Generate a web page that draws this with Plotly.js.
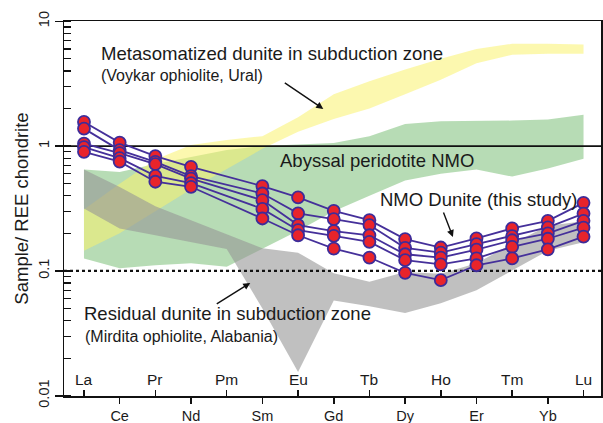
<!DOCTYPE html>
<html>
<head>
<meta charset="utf-8">
<script src="https://cdn.plot.ly/plotly-3.0.1.min.js"></script>
<style>html,body{margin:0;padding:0;background:#fff;}#chart{width:603px;height:423px;}</style>
</head>
<body>
<div id="chart"></div>
<script>
// REE elements (x categories, index positions)
const elements = ['La','Ce','Pr','Nd','Pm','Sm','Eu','Gd','Tb','Dy','Ho','Er','Tm','Yb','Lu'];
const upperLabels = ['La','Pr','Pm','Eu','Tb','Ho','Tm','Lu'];
const lowerLabels = ['Ce','Nd','Sm','Gd','Dy','Er','Yb'];

// NMO dunite samples (chondrite-normalised), Pm = null
const sample1 = [1.56, 1.067, 0.831, 0.682, null, 0.478, 0.388, 0.303, 0.255, 0.180, 0.154, 0.182, 0.219, 0.252, 0.351];
const sample2 = [1.38, 0.929, 0.748, 0.575, null, 0.417, 0.289, 0.260, 0.233, 0.153, 0.140, 0.164, 0.190, 0.223, 0.288];
const sample3 = [1.047, 0.879, 0.717, 0.549, null, 0.369, 0.233, 0.208, 0.193, 0.136, 0.128, 0.148, 0.176, 0.200, 0.252];
const sample4 = [0.98, 0.800, 0.578, 0.505, null, 0.314, 0.212, 0.191, 0.171, 0.122, 0.113, 0.126, 0.156, 0.181, 0.222];
const sample5 = [0.90, 0.751, 0.518, 0.472, null, 0.263, 0.193, 0.151, 0.128, 0.0966, 0.0843, 0.111, 0.126, 0.149, 0.188];

// Field envelopes (upper / lower boundaries per element)
const abyssalTop    = [0.65, 0.62, 0.72, 0.82, 0.93, 1.00, 1.03, 1.06, 1.20, 1.50, 1.58, 1.58, 1.60, 1.63, 1.78];
const abyssalBottom = [0.126, 0.105, 0.111, 0.115, 0.108, 0.15, 0.21, 0.30, 0.40, 0.53, 0.60, 0.65, 0.57, 0.66, 0.79];
const metasomTop    = [0.31, 0.50, 0.78, 1.02, 1.12, 1.20, 1.70, 2.60, 3.30, 4.10, 5.00, 6.00, 6.60, 6.60, 6.50];
const metasomBottom = [0.145, 0.20, 0.30, 0.45, 0.65, 0.95, 1.30, 1.65, 2.00, 2.60, 3.40, 4.60, 5.40, 5.50, 5.50];
const residualTop    = [0.65, 0.47, 0.33, 0.255, 0.195, 0.152, 0.14, 0.096, 0.082, 0.098, 0.095, 0.115, 0.165, 0.23, 0.25];
const residualBottom = [0.316, 0.219, 0.193, 0.171, 0.15, 0.05, 0.0155, 0.058, 0.052, 0.046, 0.055, 0.07, 0.10, 0.145, 0.17];

// Reference lines
const refSolid = 1;
const refDotted = 0.1;

const idx = elements.map((_, i) => i);
const upperIdx = upperLabels.map(l => elements.indexOf(l));
const lowerIdx = lowerLabels.map(l => elements.indexOf(l));
const xr = [-0.56, 14.49];

function band(top, bottom, color) {
  return {
    x: idx.concat(idx.slice().reverse()),
    y: top.concat(bottom.slice().reverse()),
    type: 'scatter', mode: 'lines', fill: 'toself',
    fillcolor: color, line: {width: 0, color: color},
    hoverinfo: 'skip', showlegend: false
  };
}

const traces = [
  band(abyssalTop, abyssalBottom, 'rgba(135,197,132,0.6)'),
  band(metasomTop, metasomBottom, 'rgba(250,243,110,0.55)'),
  band(residualTop, residualBottom, 'rgba(150,150,150,0.6)'),
  {x: xr, y: [refSolid, refSolid], type: 'scatter', mode: 'lines', cliponaxis: true,
   line: {color: '#111', width: 1.6}, hoverinfo: 'skip', showlegend: false},
  {x: xr, y: [refDotted, refDotted], type: 'scatter', mode: 'lines', cliponaxis: true,
   line: {color: '#111', width: 2.2, dash: 'dot'}, hoverinfo: 'skip', showlegend: false}
];

[sample1, sample2, sample3, sample4, sample5].forEach(s => {
  traces.push({
    x: idx, y: s, type: 'scatter', mode: 'lines+markers', connectgaps: true,
    line: {color: '#45309a', width: 1.8},
    marker: {size: 12, color: '#e8242b', line: {color: '#3d2c9a', width: 1.8}},
    showlegend: false, hoverinfo: 'skip'
  });
});

// invisible trace for second x axis (inside ticks)
traces.push({x: [0, 14], y: [1, 1], xaxis: 'x2', yaxis: 'y', mode: 'markers',
  marker: {opacity: 0}, showlegend: false, hoverinfo: 'skip'});

const FONT = 'Liberation Sans, Arial, sans-serif';
const TXT = '#1a1a1a';

const annotations = [
  {text: 'Metasomatized dunite in subduction zone', x: 0.42, y: 0.738, xref: 'x', yref: 'y',
   xanchor: 'left', yanchor: 'middle', showarrow: false, font: {size: 18.6, family: FONT, color: TXT}},
  {text: '(Voykar ophiolite, Ural)', x: 0.42, y: 0.564, xref: 'x', yref: 'y',
   xanchor: 'left', yanchor: 'middle', showarrow: false, font: {size: 16, family: FONT, color: TXT}},
  {text: '', x: 6.707, y: 0.298, xref: 'x', yref: 'y', showarrow: true, ax: -40, ay: -27,
   arrowhead: 2, arrowsize: 1, arrowwidth: 1.4, arrowcolor: '#111'},
  {text: 'Abyssal peridotite NMO', x: 5.45, y: -0.112, xref: 'x', yref: 'y',
   xanchor: 'left', yanchor: 'middle', showarrow: false, font: {size: 18.5, family: FONT, color: TXT}},
  {text: 'NMO Dunite (this study)', x: 8.25, y: -0.428, xref: 'x', yref: 'y',
   xanchor: 'left', yanchor: 'middle', showarrow: false, font: {size: 18.5, family: FONT, color: TXT}},
  {text: '', x: 10.34, y: -0.728, xref: 'x', yref: 'y', showarrow: true, ax: -10, ay: -26,
   arrowhead: 2, arrowsize: 1, arrowwidth: 1.4, arrowcolor: '#111'},
  {text: 'Residual dunite in subduction zone', x: -0.05, y: -1.344, xref: 'x', yref: 'y',
   xanchor: 'left', yanchor: 'middle', showarrow: false, font: {size: 18.5, family: FONT, color: TXT}},
  {text: '(Mirdita ophiolite, Alabania)', x: -0.03, y: -1.526, xref: 'x', yref: 'y',
   xanchor: 'left', yanchor: 'middle', showarrow: false, font: {size: 16, family: FONT, color: TXT}},
  {text: '', x: 4.66, y: -1.096, xref: 'x', yref: 'y', showarrow: true, ax: -35, ay: 22,
   arrowhead: 2, arrowsize: 1, arrowwidth: 1.4, arrowcolor: '#111'}
];
// upper (inside) element labels
upperLabels.forEach((lab, i) => {
  annotations.push({text: lab, x: upperIdx[i], xref: 'x', y: 0, yref: 'paper',
    xanchor: 'center', yanchor: 'middle', yshift: 16.5, showarrow: false,
    font: {size: 15.5, family: FONT, color: TXT}});
});

const layout = {
  width: 603, height: 423,
  margin: {l: 64, r: 2, t: 21, b: 27},
  paper_bgcolor: '#fff', plot_bgcolor: '#fff',
  font: {family: FONT, color: TXT},
  showlegend: false,
  xaxis: {
    range: xr, showgrid: false, zeroline: false,
    showline: true, linecolor: '#111', linewidth: 1.5, mirror: true,
    tickmode: 'array', tickvals: lowerIdx, ticktext: lowerLabels,
    ticks: 'outside', ticklen: 6, tickwidth: 1.5, tickcolor: '#111',
    tickfont: {size: 14.5, family: FONT, color: TXT}
  },
  xaxis2: {
    overlaying: 'x', anchor: 'y', side: 'bottom', range: xr,
    showgrid: false, zeroline: false, showline: false, showticklabels: false,
    tickmode: 'array', tickvals: upperIdx,
    ticks: 'inside', ticklen: 6, tickwidth: 1.5, tickcolor: '#111'
  },
  yaxis: {
    type: 'log', range: [-2.002, 1.002], showgrid: false, zeroline: false,
    showline: true, linecolor: '#111', linewidth: 1.5, mirror: true,
    tickmode: 'array', tickvals: [0.01, 0.1, 1, 10], ticktext: ['0.01', '0.1', '1', '10'],
    ticks: 'outside', ticklen: 8, tickwidth: 1.5, tickcolor: '#111', tickangle: -90,
    tickfont: {size: 14.5, family: FONT, color: TXT},
    minor: {ticks: 'inside', ticklen: 7, tickwidth: 1.3, tickcolor: '#111', dtick: 'D1', showgrid: false},
    title: {text: 'Sample/ REE chondrite', font: {size: 18.5, family: FONT, color: TXT}, standoff: 2}
  },
  annotations: annotations
};

Plotly.newPlot('chart', traces, layout, {staticPlot: true, displayModeBar: false});
</script>
</body>
</html>
